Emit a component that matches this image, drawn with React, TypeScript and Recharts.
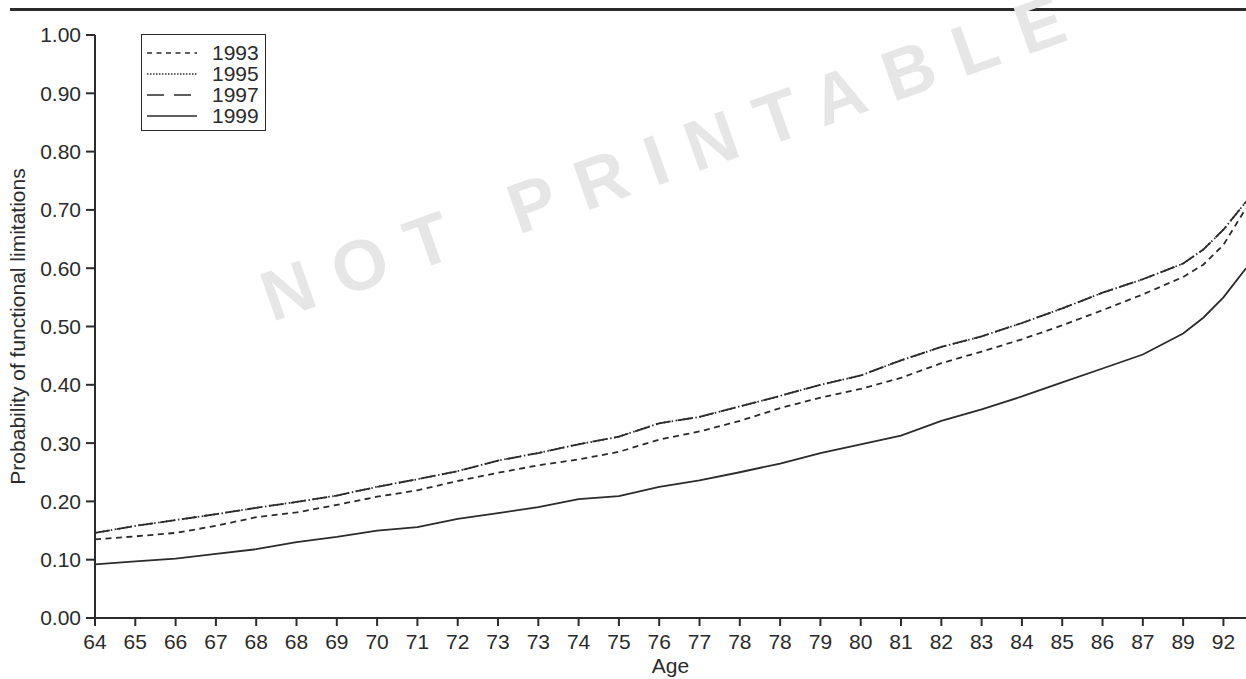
import React from 'react';
import { LineChart, Line, XAxis, YAxis, Legend } from 'recharts';

// x positions are tick slots; the last few points go past the final tick
const samplePositions = [0, 1, 2, 3, 4, 5, 6, 7, 8, 9, 10, 11, 12, 13, 14, 15, 16, 17, 18, 19, 20, 21, 22, 23, 24, 25, 26, 27, 27.5, 28, 28.56];
const tickPositions = [0, 1, 2, 3, 4, 5, 6, 7, 8, 9, 10, 11, 12, 13, 14, 15, 16, 17, 18, 19, 20, 21, 22, 23, 24, 25, 26, 27, 28];
const ageLabels = ['64', '65', '66', '67', '68', '68', '69', '70', '71', '72', '73', '73', '74', '75', '76', '77', '78', '78', '79', '80', '81', '82', '83', '84', '85', '86', '87', '89', '92'];
const yTicks = [0, 0.1, 0.2, 0.3, 0.4, 0.5, 0.6, 0.7, 0.8, 0.9, 1.0];

const p1993 = [0.135, 0.140, 0.146, 0.158, 0.173, 0.181, 0.194, 0.208, 0.219, 0.235, 0.249, 0.262, 0.272, 0.285, 0.306, 0.320, 0.338, 0.360, 0.378, 0.393, 0.412, 0.437, 0.457, 0.478, 0.502, 0.528, 0.555, 0.585, 0.606, 0.640, 0.703];
const p1995 = [0.146, 0.158, 0.168, 0.178, 0.189, 0.199, 0.210, 0.225, 0.238, 0.252, 0.270, 0.283, 0.298, 0.311, 0.334, 0.345, 0.363, 0.381, 0.400, 0.416, 0.442, 0.465, 0.483, 0.506, 0.531, 0.558, 0.581, 0.608, 0.632, 0.666, 0.714];
const p1997 = [0.146, 0.158, 0.168, 0.178, 0.189, 0.199, 0.210, 0.225, 0.238, 0.252, 0.270, 0.283, 0.298, 0.311, 0.334, 0.345, 0.363, 0.381, 0.400, 0.416, 0.442, 0.465, 0.483, 0.506, 0.531, 0.558, 0.581, 0.608, 0.632, 0.666, 0.714];
const p1999 = [0.092, 0.097, 0.102, 0.110, 0.118, 0.130, 0.139, 0.150, 0.156, 0.170, 0.180, 0.190, 0.204, 0.209, 0.225, 0.236, 0.250, 0.265, 0.283, 0.298, 0.313, 0.338, 0.358, 0.380, 0.404, 0.428, 0.452, 0.488, 0.515, 0.550, 0.600];

const data = samplePositions.map((pos, i) => ({
  pos,
  y1993: p1993[i],
  y1995: p1995[i],
  y1997: p1997[i],
  y1999: p1999[i],
}));

const series = [
  { key: 'y1993', name: '1993', dash: '6 4.5', legendDash: '5 4.5' },
  { key: 'y1995', name: '1995', dash: '1.5 2.5', legendDash: '1.5 1.5' },
  { key: 'y1997', name: '1997', dash: '15 7', legendDash: '17 10' },
  { key: 'y1999', name: '1999', dash: undefined, legendDash: undefined },
];

const ink = '#2b2b2b';
const font = '"Liberation Sans", Arial, Helvetica, sans-serif';

const renderLegend = () => (
  <div
    style={{
      border: `1.5px solid ${ink}`,
      background: '#fff',
      width: 123,
      padding: '7px 0 4px 0',
      fontFamily: font,
      fontSize: 21,
      color: ink,
    }}
  >
    {series.map(s => (
      <div key={s.key} style={{ display: 'flex', alignItems: 'center', height: 21 }}>
        <svg width={58} height={10} style={{ marginLeft: 5 }}>
          <line x1={0} y1={5} x2={50} y2={5} stroke={ink} strokeWidth={1.5} strokeDasharray={s.legendDash} />
        </svg>
        <span style={{ marginLeft: 7, lineHeight: '21px' }}>{s.name}</span>
      </div>
    ))}
  </div>
);

const App: React.FC = () => {
  return (
    <div style={{ position: 'relative', width: 1246, height: 679, background: '#fff', fontFamily: font }}>
      <style>{'body{margin:0;}'}</style>
      <div style={{ position: 'absolute', left: 10, top: 8, width: 1236, height: 3, background: ink }} />
      <svg width={1246} height={679} style={{ position: 'absolute', left: 0, top: 0 }}>
        <text
          x={272}
          y={322}
          transform="rotate(-19.5 272 322)"
          fontFamily={font}
          fontWeight="bold"
          fontSize={71}
          letterSpacing={23}
          fill="#e6e6e6"
        >
          NOT PRINTABLE
        </text>
      </svg>
      <div style={{ position: 'absolute', left: 0, top: 0 }}>
        <LineChart width={1246} height={679} data={data} margin={{ top: 35, right: 0, bottom: 31, left: 0 }}>
          <XAxis
            dataKey="pos"
            type="number"
            domain={[0, 28.56]}
            ticks={tickPositions}
            tickFormatter={(v: number) => ageLabels[v] ?? ''}
            interval={0}
            height={30}
            stroke={ink}
            strokeWidth={2}
            tickSize={8}
            tickMargin={8}
            tick={{ fill: ink, fontSize: 21, fontFamily: font }}
            label={{ value: 'Age', position: 'insideBottom', offset: -25, fill: ink, fontSize: 21, fontFamily: font }}
          />
          <YAxis
            domain={[0, 1]}
            ticks={yTicks}
            interval={0}
            width={95}
            stroke={ink}
            strokeWidth={2}
            tickSize={9}
            tickMargin={5}
            tickFormatter={(v: number) => v.toFixed(2)}
            tick={{ fill: ink, fontSize: 21, fontFamily: font }}
            label={{
              value: 'Probability of functional limitations',
              angle: -90,
              position: 'insideLeft',
              offset: 0,
              dx: 18,
              fill: ink,
              fontSize: 21,
              fontFamily: font,
              style: { textAnchor: 'middle' },
            }}
          />
          <Legend
            layout="vertical"
            align="center"
            verticalAlign="middle"
            content={renderLegend}
            wrapperStyle={{ position: 'absolute', left: 141, top: 34, width: 126 }}
          />
          {series.map(s => (
            <Line
              key={s.key}
              type="linear"
              dataKey={s.key}
              name={s.name}
              stroke={ink}
              strokeWidth={1.8}
              strokeDasharray={s.dash}
              dot={false}
              activeDot={false}
              isAnimationActive={false}
            />
          ))}
        </LineChart>
      </div>
    </div>
  );
};

export default App;
